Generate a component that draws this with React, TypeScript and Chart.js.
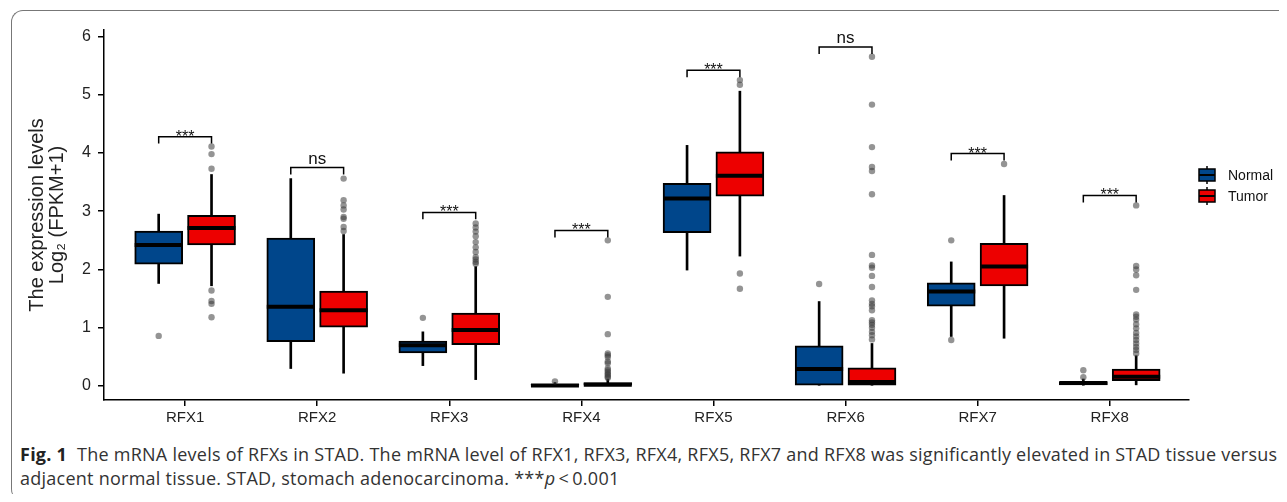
import React, { useEffect, useRef } from 'react';
import { Chart, registerables } from 'chart.js';

Chart.register(...registerables);

const categories = ['RFX1', 'RFX2', 'RFX3', 'RFX4', 'RFX5', 'RFX6', 'RFX7', 'RFX8'];
const yTicks = [0, 1, 2, 3, 4, 5, 6];

// Normal group boxplot statistics
const normalLow = [1.76, 0.30, 0.35, 0.0, 1.99, 0.0, 0.85, 0.0];
const normalQ1 = [2.09, 0.76, 0.57, 0.0, 2.63, 0.0, 1.37, 0.02];
const normalMedian = [2.42, 1.36, 0.70, 0.01, 3.22, 0.29, 1.62, 0.05];
const normalQ3 = [2.66, 2.54, 0.77, 0.03, 3.48, 0.69, 1.77, 0.07];
const normalHigh = [2.95, 3.56, 0.93, 0.06, 4.13, 1.45, 2.13, 0.12];
const normalOutliers = [
  [0.86],
  [],
  [1.17],
  [0.08],
  [],
  [1.75],
  [2.50, 0.79],
  [0.27, 0.15],
];

// Tumor group boxplot statistics
const tumorLow = [1.72, 0.22, 0.11, 0.0, 2.23, 0.0, 0.82, 0.02];
const tumorQ1 = [2.42, 1.01, 0.71, 0.0, 3.26, 0.0, 1.72, 0.09];
const tumorMedian = [2.71, 1.30, 0.96, 0.02, 3.61, 0.07, 2.05, 0.16];
const tumorQ3 = [2.93, 1.63, 1.25, 0.06, 4.02, 0.31, 2.45, 0.29];
const tumorHigh = [3.63, 2.60, 2.05, 0.12, 5.06, 0.73, 3.27, 0.52];
const tumorOutliers = [
  [4.11, 3.98, 3.73, 1.64, 1.46, 1.41, 1.18],
  [3.56, 3.19, 3.10, 3.03, 2.90, 2.87, 2.73, 2.66],
  [2.79, 2.72, 2.65, 2.57, 2.47, 2.38, 2.30, 2.21, 2.17, 2.13, 2.10],
  [2.50, 1.53, 0.89, 0.56, 0.53, 0.50, 0.42, 0.39, 0.30, 0.27, 0.24, 0.21, 0.19, 0.16, 0.14],
  [5.25, 5.17, 1.93, 1.67],
  [5.65, 4.83, 4.10, 3.76, 3.69, 3.29, 2.25, 2.07, 2.03, 1.89, 1.70, 1.47, 1.41, 1.37, 1.30, 1.13, 1.09, 1.05, 1.00, 0.93, 0.87, 0.80],
  [3.81],
  [3.10, 2.06, 2.00, 1.90, 1.65, 1.23, 1.19, 1.14, 1.06, 0.99, 0.91, 0.85, 0.79, 0.73, 0.67, 0.62, 0.56],
];

// Significance brackets
const bracketY = [4.28, 3.75, 2.98, 2.67, 5.42, 5.82, 3.99, 3.27];
const sigLabels = ['***', 'ns', '***', '***', '***', 'ns', '***', '***'];

const groups = ['Normal', 'Tumor'];
const groupColors = ['#00468B', '#ED0000'];

const DODGE = 0.2;
const TIP = 0.12;
const FONT = "'Liberation Sans', Arial, sans-serif";

export default function App() {
  const ref = useRef<HTMLCanvasElement>(null);

  useEffect(() => {
    if (!ref.current) return;
    const xs = categories.map((_, i) => i + 1);

    const whisker = (lo: number[], hi: number[], off: number) => ({
      type: 'bar' as const,
      data: xs.map((x, i) => ({ x: x + off, y: [lo[i], hi[i]] })),
      backgroundColor: '#000',
      borderWidth: 0,
      barThickness: 2,
      grouped: false,
      order: 6,
    });
    const box = (q1: number[], q3: number[], off: number, color: string, label: string) => ({
      type: 'bar' as const,
      label,
      data: xs.map((x, i) => ({ x: x + off, y: [q1[i], q3[i]] })),
      backgroundColor: color,
      borderColor: '#000',
      borderWidth: 2,
      borderSkipped: false,
      barThickness: 48,
      grouped: false,
      order: 5,
    });
    const median = (m: number[], off: number) => ({
      type: 'scatter' as const,
      data: xs.map((x, i) => ({ x: x + off, y: m[i] })),
      pointStyle: 'line',
      pointRadius: 24,
      pointBorderWidth: 4,
      pointBorderColor: '#000',
      pointBackgroundColor: '#000',
      order: 4,
    });
    const outl = (o: number[][], off: number) => ({
      type: 'scatter' as const,
      data: o.flatMap((arr, i) => arr.map((v) => ({ x: xs[i] + off, y: v }))),
      pointRadius: 3.2,
      pointBorderWidth: 0,
      pointBackgroundColor: 'rgba(60,60,60,0.55)',
      order: 3,
    });

    const annot = {
      id: 'annot',
      afterDatasetsDraw(chart: any) {
        const { ctx } = chart;
        const x = chart.scales.x;
        const y = chart.scales.y;
        ctx.save();
        ctx.strokeStyle = '#000';
        ctx.lineWidth = 1.5;
        ctx.fillStyle = '#111';
        ctx.textAlign = 'center';
        ctx.textBaseline = 'alphabetic';
        categories.forEach((_, i) => {
          const x1 = x.getPixelForValue(i + 1 - DODGE);
          const x2 = x.getPixelForValue(i + 1 + DODGE);
          const yb = y.getPixelForValue(bracketY[i]);
          const yt = y.getPixelForValue(bracketY[i] - TIP);
          ctx.beginPath();
          ctx.moveTo(x1, yt);
          ctx.lineTo(x1, yb);
          ctx.lineTo(x2, yb);
          ctx.lineTo(x2, yt);
          ctx.stroke();
          const xm = x.getPixelForValue(i + 1);
          if (sigLabels[i] === 'ns') {
            ctx.font = `17px ${FONT}`;
            ctx.fillText(sigLabels[i], xm, yb - 4);
          } else {
            ctx.font = `16px ${FONT}`;
            ctx.fillText(sigLabels[i], xm, yb + 5);
          }
        });

        // legend
        const lx = 1199;
        const ly = [167, 188];
        groups.forEach((g, k) => {
          const cy = ly[k];
          ctx.lineWidth = 1.5;
          ctx.strokeStyle = '#000';
          ctx.beginPath();
          ctx.moveTo(lx, cy - 9);
          ctx.lineTo(lx, cy + 9);
          ctx.stroke();
          ctx.fillStyle = groupColors[k];
          ctx.fillRect(lx - 8, cy - 6, 16, 12);
          ctx.strokeRect(lx - 8, cy - 6, 16, 12);
          ctx.lineWidth = 2;
          ctx.beginPath();
          ctx.moveTo(lx - 8, cy);
          ctx.lineTo(lx + 8, cy);
          ctx.stroke();
          ctx.fillStyle = '#111';
          ctx.font = `14px ${FONT}`;
          ctx.textAlign = 'left';
          ctx.textBaseline = 'middle';
          ctx.fillText(g, lx + 21, cy + 1);
        });
        ctx.restore();
      },
    };

    const chart = new Chart(ref.current, {
      type: 'bar',
      data: {
        datasets: [
          whisker(normalLow, normalHigh, -DODGE),
          whisker(tumorLow, tumorHigh, DODGE),
          box(normalQ1, normalQ3, -DODGE, groupColors[0], groups[0]),
          box(tumorQ1, tumorQ3, DODGE, groupColors[1], groups[1]),
          median(normalMedian, -DODGE),
          median(tumorMedian, DODGE),
          outl(normalOutliers, -DODGE),
          outl(tumorOutliers, DODGE),
        ] as any,
      },
      options: {
        animation: false,
        responsive: false,
        devicePixelRatio: 1,
        layout: { autoPadding: false, padding: { top: 22, right: 90, left: 0, bottom: 0 } },
        plugins: { legend: { display: false }, tooltip: { enabled: false } },
        scales: {
          x: {
            type: 'linear',
            offset: false,
            min: 0.386,
            max: 8.6,
            afterBuildTicks: (s: any) => {
              s.ticks = xs.map((v) => ({ value: v }));
            },
            afterFit: (s: any) => {
              s.height = 33;
            },
            ticks: {
              callback: (v: any) => categories[Math.round(Number(v)) - 1] ?? '',
              font: { family: FONT, size: 15 },
              color: '#222',
              padding: 3,
              maxRotation: 0,
              autoSkip: false,
            },
            grid: { display: true, offset: false, drawOnChartArea: false, drawTicks: true, tickLength: 6, color: '#000', lineWidth: 1.5 },
            border: { display: true, color: '#000', width: 1.5 },
          },
          y: {
            type: 'linear',
            min: -0.24,
            max: 6.11,
            afterBuildTicks: (s: any) => {
              s.ticks = yTicks.map((v) => ({ value: v }));
            },
            afterFit: (s: any) => {
              s.width = 96;
            },
            ticks: {
              font: { family: FONT, size: 16 },
              color: '#222',
              padding: 7,
            },
            grid: { display: true, drawOnChartArea: false, drawTicks: true, tickLength: 6, color: '#000', lineWidth: 1.5 },
            border: { display: true, color: '#000', width: 1.5 },
            title: {
              display: true,
              text: ['The expression levels', 'Log\u2082 (FPKM+1)'],
              font: { family: FONT, size: 20, lineHeight: 1.0 },
              color: '#222',
              padding: { top: 19, bottom: 0 },
            },
          },
        },
      } as any,
      plugins: [annot],
    });
    return () => chart.destroy();
  }, []);

  return (
    <div style={{ position: 'relative', width: 1271, height: 486 }}>
      <div
        style={{
          position: 'absolute',
          left: 3,
          top: 2,
          width: 1275,
          height: 491,
          boxSizing: 'border-box',
          borderTop: '1.5px solid #777',
          borderLeft: '1.5px solid #777',
          borderTopLeftRadius: 12,
          borderBottomLeftRadius: 12,
        }}
      />
      <canvas ref={ref} width={1271} height={425} style={{ position: 'absolute', left: 0, top: 0, width: 1271, height: 425 }} />
      <div
        style={{
          position: 'absolute',
          left: 12,
          top: 434,
          fontFamily: "'Open Sans', sans-serif",
          fontSize: 18,
          lineHeight: '24px',
          color: '#333',
          whiteSpace: 'nowrap',
          letterSpacing: '0.25px',
        }}
      >
        <div>
          <b style={{ color: '#222' }}>Fig. 1</b>&nbsp; The mRNA levels of RFXs in STAD. The mRNA level of RFX1, RFX3, RFX4, RFX5, RFX7 and RFX8 was significantly elevated in STAD tissue versus
        </div>
        <div>
          adjacent normal tissue. STAD, stomach adenocarcinoma. ***<i>p</i>&thinsp;&lt;&thinsp;0.001
        </div>
      </div>
    </div>
  );
}
